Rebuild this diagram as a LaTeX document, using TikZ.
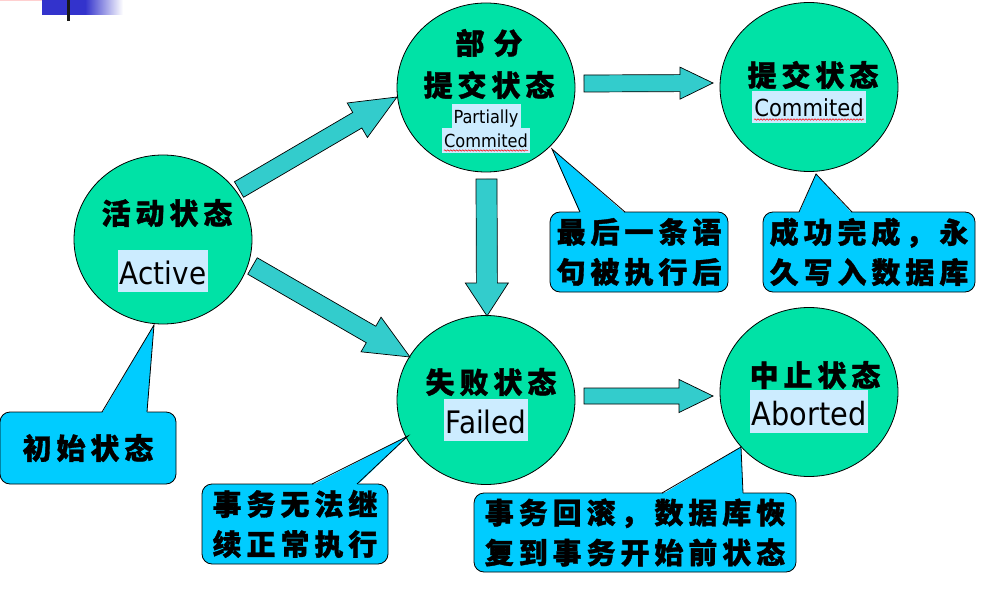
\documentclass[tikz,border=0pt]{standalone}
\usepackage{fontspec}
\newfontfamily\cjk{Noto Sans CJK SC}[LetterSpace=17, BoldFeatures={FakeBold=1.2}]
\newfontfamily\lat{DejaVu Sans}[FakeStretch=0.9]
\usetikzlibrary{shapes.geometric,calc,decorations.pathmorphing}
\definecolor{circ}{RGB}{0,226,166}
\definecolor{arr}{RGB}{51,204,204}
\definecolor{call}{RGB}{0,204,255}
\definecolor{hl}{RGB}{204,236,255}
\definecolor{deco}{RGB}{51,51,204}
\definecolor{decopink}{RGB}{255,208,208}
\tikzset{
 state/.style={ellipse, draw=black, line width=0.8pt, fill=circ, minimum width=178pt, minimum height=169pt, inner sep=0pt},
 cn/.style={font=\cjk\bfseries\fontsize{29}{40}\selectfont, inner sep=0pt, align=center},
 en/.style={font=\lat\fontsize{#1}{#1}\selectfont, fill=hl, inner xsep=2pt, inner ysep=0pt, text height={1.1*#1pt}, text depth={0.26*#1pt}, anchor=base},
 callbox/.style={draw=black, line width=0.8pt, fill=call, rounded corners=10pt, inner sep=0pt, outer sep=0pt, align=center, font=\cjk\bfseries\fontsize{29}{40}\selectfont},
 arrowbody/.style={draw=black, line width=0.7pt, fill=arr, line join=miter},
 wavy/.style={red, line width=0.5pt, decorate, decoration={snake, segment length=3pt, amplitude=0.7pt}},
}
\newcommand\blockarr[5]{%
 \path ($(#2)!#5!(#1)$) coordinate (bj);
 \draw[arrowbody] ($(#1)!#3!90:(#2)$) -- ($(bj)!#3!90:(#2)$) -- ($(bj)!#4!90:(#2)$) -- (#2)
   -- ($(bj)!#4!-90:(#2)$) -- ($(bj)!#3!-90:(#2)$) -- ($(#1)!#3!-90:(#2)$) -- cycle;}
\newcommand\callptr[4]{%
 \fill[call] ($(#1.north west)+(#2,1.3)$) -- (#4) -- ($(#1.north west)+(#3,1.3)$) -- cycle;
 \draw[line width=0.8pt, line join=miter] ($(#1.north west)+(#2,0)$) -- (#4) -- ($(#1.north west)+(#3,0)$);}
\begin{document}
\begin{tikzpicture}[x=1pt,y=-1pt]
\useasboundingbox (0,0) rectangle (998,596);
\fill[white] (0,0) rectangle (998,596);
% slide decoration
\fill[decopink] (0,0) rectangle (58,1.2);
\fill[deco] (42,0) rectangle (85,15);
\shade[left color=deco, right color=white] (85,0) rectangle (123,15);
\fill[black!90] (67,0) rectangle (70,21);
% states
\node[state] (act) at (163,239.5) {};
\node[state] (par) at (486,87.5) {};
\node[state] (com) at (809,87) {};
\node[state] (fai) at (486,400) {};
\node[state] (abo) at (809,392) {};
% state texts
\node[cn] (actc) at (167,213) {活动状态};
\node[en=31] (acte) at (163,284) {Active};
\node[cn] (parc1) at (489,43) {部\hspace{9pt}分};
\node[cn] (parc2) at (489,85) {提交状态};
\node[en=18] (pare1) at (486,123.5) {Partially};
\node[en=18] (pare2) at (486,148) {Commited};
\draw[wavy] ($(pare2.base west)+(2,2.5)$) -- ($(pare2.base east)+(-2,2.5)$);
\node[cn] (comc) at (813,75) {提交状态};
\node[en=23.5] (come) at (809,117) {Commited};
\draw[wavy] ($(come.base west)+(2,2.5)$) -- ($(come.base east)+(-2,2.5)$);
\node[cn] (faic) at (491,382) {失败状态};
\node[en=31] (faie) at (486,433) {Failed};
\node[cn] (aboc) at (815,375) {中止状态};
\node[en=32] (aboe) at (809,425) {Aborted};
% arrows
\coordinate (a1s) at (239,189.5); \coordinate (a1e) at (397,97);
\coordinate (a2s) at (252.5,266); \coordinate (a2e) at (410,357);
\coordinate (a3s) at (486.5,179); \coordinate (a3e) at (487,316);
\coordinate (a4s) at (584,83.5); \coordinate (a4e) at (713,83);
\coordinate (a5s) at (584,396); \coordinate (a5e) at (713,396);
\blockarr{a1s}{a1e}{9pt}{20pt}{46pt}
\blockarr{a2s}{a2e}{9.5pt}{20pt}{45pt}
\blockarr{a3s}{a3e}{10.5pt}{21.5pt}{33pt}
\blockarr{a4s}{a4e}{8.5pt}{16pt}{33pt}
\blockarr{a5s}{a5e}{8pt}{16.5pt}{34pt}
% callouts
\node[callbox, minimum width=176pt, minimum height=72pt] (k1) at (88,448) {初始状态};
\node[callbox, minimum width=178pt, minimum height=80pt] (k2) at (639,252) {最后一条语\\句被执行后};
\node[callbox, minimum width=212pt, minimum height=80pt] (k3) at (869,252) {成功完成，永\\久写入数据库};
\node[callbox, minimum width=186pt, minimum height=80pt] (k4) at (295,524) {事务无法继\\续正常执行};
\node[callbox, minimum width=322pt, minimum height=79pt] (k5) at (635,532.5) {事务回滚，数据库恢\\复到事务开始前状态};
\coordinate (t1) at (154,325);
\coordinate (t2) at (552,149);
\coordinate (t3) at (816,174);
\coordinate (t4) at (408,436);
\coordinate (t5) at (741,447);
\callptr{k1}{102}{147}{t1}
\callptr{k2}{30}{75}{t2}
\callptr{k3}{36}{89}{t3}
\callptr{k4}{110}{155}{t4}
\callptr{k5}{188}{269}{t5}
\end{tikzpicture}
\end{document}
